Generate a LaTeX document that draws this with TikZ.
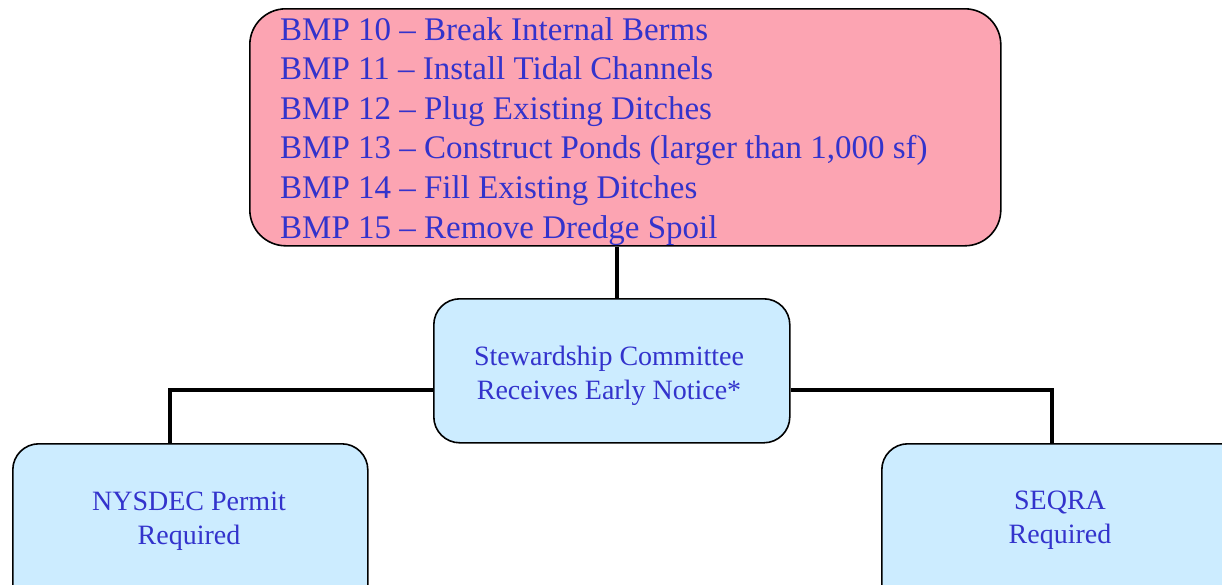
\documentclass[tikz,border=0pt]{standalone}
\usepackage{fontspec}
\setmainfont{Liberation Serif}
\definecolor{pinkfill}{RGB}{252,164,178}
\definecolor{bluefill}{RGB}{204,236,255}
\definecolor{txtblue}{RGB}{51,51,204}
\begin{document}
\begin{tikzpicture}[x=1pt,y=-1pt,
  boxbase/.style={draw=black, line width=1.6pt, inner sep=0pt, anchor=north west},
  pinkbox/.style={boxbase, fill=pinkfill, rounded corners=36pt},
  bluebox/.style={boxbase, fill=bluefill, rounded corners=26pt},
  bigtext/.style={text=txtblue, font=\fontsize{33}{39.6}\selectfont, anchor=base west, inner sep=0pt},
  smalltext/.style={text=txtblue, font=\fontsize{28}{34}\selectfont, align=center, inner sep=0pt, anchor=center},
  conn/.style={line width=4pt}]
\useasboundingbox (0,0) rectangle (1222,584);
\clip (0,0) rectangle (1222,584);
% boxes
\node[pinkbox, minimum width=751pt, minimum height=237pt] (top) at (249,8) {};
\node[bluebox, minimum width=356pt, minimum height=144pt] (mid) at (433,298) {};
\node[bluebox, minimum width=355pt, minimum height=180pt] (left) at (12,443) {};
\node[bluebox, minimum width=380pt, minimum height=180pt] (right) at (881,443) {};
% connectors
\coordinate (jt) at (617,0);
\coordinate (hl) at (170,390);
\coordinate (hr) at (1052,390);
\draw[conn] (top.south -| jt) -- (mid.north -| jt);
\draw[conn] (mid.west |- hl) -| (left.north -| hl);
\draw[conn] (mid.east |- hr) -| (right.north -| hr);
% texts
\foreach \t [count=\i] in {BMP 10 -- Break Internal Berms,
  BMP 11 -- Install Tidal Channels,
  BMP 12 -- Plug Existing Ditches,
  {BMP 13 -- Construct Ponds (larger than 1,000 sf)},
  BMP 14 -- Fill Existing Ditches,
  BMP 15 -- Remove Dredge Spoil}
  \node[bigtext] (t\i) at (280,{40+39.6*(\i-1)}) {\t};
\node[smalltext] (midtext) at (609,375.5) {Stewardship Committee\\Receives Early Notice*};
\node[smalltext] (lefttext) at (189,521.5) {NYSDEC Permit\\Required};
\node[smalltext] (righttext) at (1060,520.5) {SEQRA\\Required};
\end{tikzpicture}
\end{document}
